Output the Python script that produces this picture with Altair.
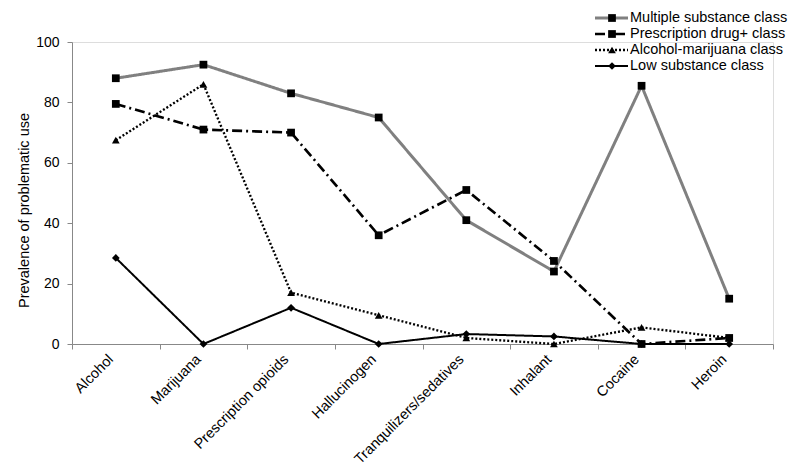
import altair as alt
import pandas as pd

categories = ["Alcohol", "Marijuana", "Prescription opioids", "Hallucinogen",
              "Tranquilizers/sedatives", "Inhalant", "Cocaine", "Heroin"]
series = ["Multiple substance class", "Prescription drug+ class",
          "Alcohol-marijuana class", "Low substance class"]
multiple = [88, 92.5, 83, 75, 41, 24, 85.5, 15]
prescription = [79.5, 71, 70, 36, 51, 27.5, 0, 2]
alc_mar = [67.5, 86, 17, 9.5, 2, 0, 5.5, 2]
low = [28.5, 0, 12, 0, 3.3, 2.5, 0, 0]
y_ticks = [0, 20, 40, 60, 80, 100]

values = [multiple, prescription, alc_mar, low]
rows = []
for s, vals in zip(series, values):
    for c, v in zip(categories, vals):
        rows.append({"category": c, "series": s, "value": v})
df = pd.DataFrame(rows)
leg = pd.DataFrame({"series": series})

FONT = "Liberation Sans"

color = alt.Color("series:N", scale=alt.Scale(domain=series, range=["#808080", "#000000", "#000000", "#000000"]), legend=None)
dash = alt.StrokeDash("series:N", scale=alt.Scale(domain=series, range=[[1, 0], [10, 4, 2, 4], [2, 2], [1, 0]]), legend=None)
width = alt.StrokeWidth("series:N", scale=alt.Scale(domain=series, range=[3, 2, 1.5, 2]), legend=None)
shape = alt.Shape("series:N", scale=alt.Scale(domain=series, range=["square", "square", "triangle-up", "diamond"]), legend=None)
size = alt.Size("series:N", scale=alt.Scale(domain=series, range=[60, 60, 40, 30]), legend=None)

x = alt.X("category:N", sort=categories, bandPosition=0.5,
          scale=alt.Scale(type="band", paddingInner=0, paddingOuter=0),
          axis=alt.Axis(title=None, tickBand="extent", labelAngle=-45, labelAlign="right",
                        labelBaseline="middle", labelPadding=8, labelOffset=-5,
                        labelFontSize=14.5, labelFont=FONT, labelColor="#000000",
                        domainColor="#888888", tickColor="#888888", tickSize=5))
y = alt.Y("value:Q", scale=alt.Scale(domain=[0, 100], nice=False, zero=True),
          axis=alt.Axis(title="Prevalence of problematic use", values=y_ticks, grid=False,
                        labelFontSize=14, labelFont=FONT, labelColor="#000000", labelPadding=8,
                        titleFont=FONT, titleFontSize=14.5, titleFontWeight="normal",
                        titleColor="#000000", titlePadding=4, titleY=168,
                        domainColor="#888888", tickColor="#888888", tickSize=5))

lines = alt.Chart(df).mark_line().encode(x=x, y=y, color=color, strokeDash=dash, strokeWidth=width, detail="series:N")
points = alt.Chart(df).mark_point(filled=True, opacity=1, color="#000000").encode(x=x, y=y, shape=shape, size=size)
main = alt.layer(lines, points)

ly = alt.Y("series:N", scale=alt.Scale(type="point", domain=series, range=[-24, 24], padding=0), axis=None)
leg_rule = alt.Chart(leg).mark_rule().encode(
    x=alt.value(523), x2=alt.value(556), y=ly, color=color, strokeDash=dash, strokeWidth=width)
leg_pt = alt.Chart(leg).mark_point(filled=True, opacity=1, color="#000000").encode(
    x=alt.value(540), y=ly, shape=shape, size=size)
leg_txt = alt.Chart(leg).mark_text(align="left", baseline="middle", font=FONT, fontSize=14.5, color="#000000").encode(
    x=alt.value(558), y=ly, text="series:N")
legend = alt.layer(leg_rule, leg_pt, leg_txt)

chart = alt.layer(main, legend).resolve_scale(y="independent").properties(
    width=701, height=302,
    autosize=alt.AutoSizeParams(type="none"),
    padding={"left": 64, "top": 34, "right": 19, "bottom": 123},
).configure_view(stroke=None).configure(background="white")

chart.save("out.html", embed_options={"renderer": "svg", "actions": False})
